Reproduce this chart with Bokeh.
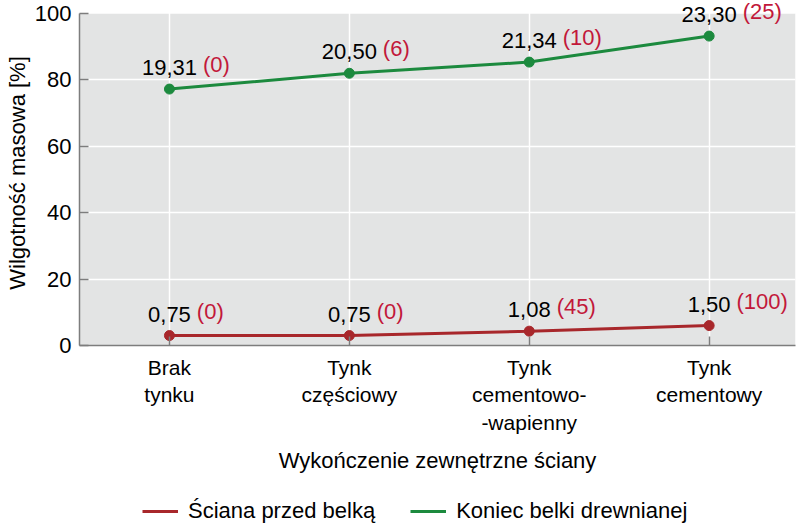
from bokeh.plotting import figure
from bokeh.layouts import column
from bokeh.models import (Range1d, FixedTicker, Legend, LegendItem,
                          ColumnDataSource, LabelSet, BoxAnnotation)
from bokeh.core.properties import value
from bokeh.embed import file_html
from bokeh.resources import INLINE

# Wall finish variants (x categories)
categories = ["Brak\ntynku", "Tynk\nczęściowy", "Tynk\ncementowo-\n-wapienny", "Tynk\ncementowy"]

# Moisture series with the bracketed values shown next to each point
wall_before_beam = [0.75, 0.75, 1.08, 1.50]
wall_before_beam_extra = [0, 0, 45, 100]
beam_end = [19.31, 20.50, 21.34, 23.30]
beam_end_extra = [0, 6, 10, 25]
series_names = ["Ściana przed belką", "Koniec belki drewnianej"]

# Y axis ticks (data units) and the printed tick labels
y_ticks = [0, 5, 10, 15, 20, 25]
y_tick_labels = ["0", "20", "40", "60", "80", "100"]

FONT = "Liberation Sans"
RED = "#a8272b"
GREEN = "#1c8a3e"
RED_TEXT = "#c2183a"
AXIS_GREY = "#7d7d7d"
PANEL_GREY = "#e3e4e4"
LABEL_PX = 22

Y_MAX = y_ticks[-1]
# headroom above the grey panel so the top labels are not clipped
Y_TOP = Y_MAX * 345 / 332


def fmt(v):
    return f"{v:.2f}".replace(".", ",")


def text_width(s, px):
    # rough Arial-metric width of a numeric label
    w = 0.0
    for ch in s:
        w += 0.278 if ch in ",." else 0.556
    return w * px


p = figure(width=800, height=490, output_backend="svg", toolbar_location=None,
           x_range=Range1d(-0.5, 3.48), y_range=Range1d(0, Y_TOP),
           min_border_left=79, min_border_right=5, min_border_top=0,
           min_border_bottom=145)
p.background_fill_color = "white"
p.border_fill_color = "white"
p.outline_line_color = None

# grey plotting panel (up to the top tick)
p.add_layout(BoxAnnotation(bottom=0, top=Y_MAX, fill_color=PANEL_GREY,
                           fill_alpha=1, line_color=None, level="image"))

xs = list(range(len(categories)))

# grid
p.xgrid.ticker = FixedTicker(ticks=xs)
p.ygrid.ticker = FixedTicker(ticks=y_ticks[1:-1])
for g in (p.xgrid, p.ygrid):
    g.grid_line_color = "white"
    g.grid_line_width = 1.5
# keep the vertical grid lines inside the grey panel
p.add_layout(BoxAnnotation(bottom=Y_MAX, fill_color="white", fill_alpha=1,
                           line_color=None, level="underlay"))

# axes
p.xaxis.ticker = FixedTicker(ticks=xs)
p.xaxis.major_label_overrides = {i: c for i, c in enumerate(categories)}
p.yaxis.ticker = FixedTicker(ticks=y_ticks)
p.yaxis.major_label_overrides = {t: l for t, l in zip(y_ticks, y_tick_labels)}
p.yaxis.bounds = (0, Y_MAX)
for ax in (p.xaxis, p.yaxis):
    ax.axis_line_color = AXIS_GREY
    ax.axis_line_width = 1.5
    ax.major_tick_line_color = AXIS_GREY
    ax.major_tick_line_width = 1.5
    ax.major_tick_in = 9
    ax.major_tick_out = 0
    ax.minor_tick_line_color = None
    ax.major_label_text_font = FONT
    ax.major_label_text_color = "black"
    ax.axis_label_text_font = FONT
    ax.axis_label_text_font_style = "normal"
    ax.axis_label_text_color = "black"
p.yaxis.major_label_text_font_size = "22px"
p.xaxis.major_label_text_font_size = "21px"
p.yaxis.major_label_standoff = 8
p.xaxis.major_label_standoff = 10
p.xaxis.axis_label = "Wykończenie zewnętrzne ściany"
p.yaxis.axis_label = "Wilgotność masowa [%]"
p.xaxis.axis_label_text_font_size = "22px"
p.yaxis.axis_label_text_font_size = "22px"
p.xaxis.axis_label_standoff = 11
p.yaxis.axis_label_standoff = 2

series = [(wall_before_beam, wall_before_beam_extra, RED),
          (beam_end, beam_end_extra, GREEN)]
sources = []
for vals, extra, color in series:
    labels = [fmt(v) for v in vals]
    src = ColumnDataSource(dict(
        x=xs, y=vals, label=labels,
        extra=[f"({e})" for e in extra],
        dx=[text_width(l, LABEL_PX) / 2 + 6 for l in labels],
    ))
    sources.append(src)
    p.line("x", "y", source=src, line_color=color, line_width=3)
    p.scatter("x", "y", source=src, size=10, fill_color=color, line_color=color)
    p.add_layout(LabelSet(x="x", y="y", text="label", source=src,
                          text_align="center", text_baseline="alphabetic",
                          y_offset=14, text_font=value(FONT),
                          text_font_size=f"{LABEL_PX}px", text_color="black"))
    p.add_layout(LabelSet(x="x", y="y", text="extra", source=src,
                          x_offset="dx", y_offset=17,
                          text_align="left", text_baseline="alphabetic",
                          text_font=value(FONT), text_font_size=f"{LABEL_PX}px",
                          text_color=RED_TEXT))

# legend strip below the chart; its key lines reuse the series data but the
# strip's ranges keep them out of view, so only the legend itself shows
leg = figure(width=800, height=36, output_backend="svg", toolbar_location=None,
             x_range=Range1d(100, 101), y_range=Range1d(100, 101),
             min_border=0)
leg.axis.visible = False
leg.grid.visible = False
leg.outline_line_color = None
leg.background_fill_color = "white"
leg.border_fill_color = "white"
keys = [leg.line("x", "y", source=src, line_color=c, line_width=3)
        for src, (_, _, c) in zip(sources, series)]
legend = Legend(items=[LegendItem(label=n, renderers=[r]) for n, r in zip(series_names, keys)],
                orientation="horizontal", location=(63, 2),
                label_text_font=FONT, label_text_font_size="22px",
                label_text_color="black",
                glyph_width=36, glyph_height=20, label_standoff=10, spacing=35,
                padding=0, margin=0, border_line_color=None,
                background_fill_alpha=0)
leg.add_layout(legend, "center")

open("out.html", "w").write(file_html(column(p, leg, spacing=0), INLINE))
